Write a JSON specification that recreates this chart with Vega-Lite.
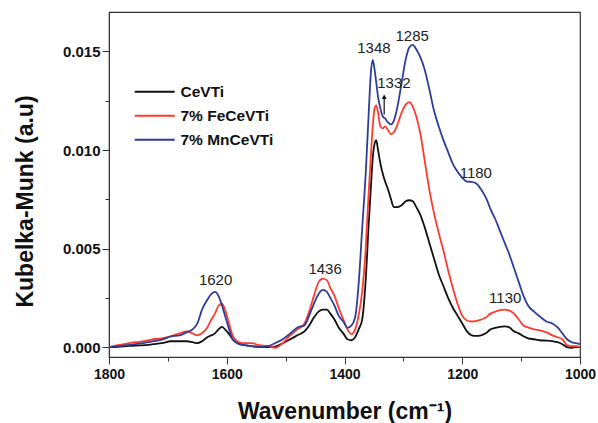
{
  "$schema": "https://vega.github.io/schema/vega-lite/v6.json",
  "width": 471,
  "height": 345,
  "autosize": {"type": "none"},
  "padding": {"left": 109, "top": 12, "right": 18, "bottom": 66},
  "background": "white",
  "config": {
    "view": {"stroke": "#333333", "strokeWidth": 1.2},
    "font": "Liberation Sans"
  },
  "datasets": {
    "spectra": [
      {"wn": 1800, "CeVTi": 0.0000, "7% FeCeVTi": 0.0000, "7% MnCeVTi": 0.0000},
      {"wn": 1785, "CeVTi": 0.00002, "7% FeCeVTi": 0.0001, "7% MnCeVTi": 0.00005},
      {"wn": 1770, "CeVTi": 0.00005, "7% FeCeVTi": 0.00018, "7% MnCeVTi": 0.0001},
      {"wn": 1755, "CeVTi": 0.00008, "7% FeCeVTi": 0.00025, "7% MnCeVTi": 0.00015},
      {"wn": 1740, "CeVTi": 0.0001, "7% FeCeVTi": 0.0003, "7% MnCeVTi": 0.00022},
      {"wn": 1725, "CeVTi": 0.00015, "7% FeCeVTi": 0.0004, "7% MnCeVTi": 0.0003},
      {"wn": 1710, "CeVTi": 0.0002, "7% FeCeVTi": 0.00045, "7% MnCeVTi": 0.00038},
      {"wn": 1695, "CeVTi": 0.0003, "7% FeCeVTi": 0.00055, "7% MnCeVTi": 0.00055},
      {"wn": 1680, "CeVTi": 0.0003, "7% FeCeVTi": 0.0007, "7% MnCeVTi": 0.0006},
      {"wn": 1668, "CeVTi": 0.0003, "7% FeCeVTi": 0.0008, "7% MnCeVTi": 0.00075},
      {"wn": 1658, "CeVTi": 0.00025, "7% FeCeVTi": 0.0007, "7% MnCeVTi": 0.0009},
      {"wn": 1650, "CeVTi": 0.0002, "7% FeCeVTi": 0.0006, "7% MnCeVTi": 0.0012},
      {"wn": 1642, "CeVTi": 0.0003, "7% FeCeVTi": 0.0007, "7% MnCeVTi": 0.0019},
      {"wn": 1633, "CeVTi": 0.0005, "7% FeCeVTi": 0.0010, "7% MnCeVTi": 0.0024},
      {"wn": 1626, "CeVTi": 0.0006, "7% FeCeVTi": 0.0014, "7% MnCeVTi": 0.0027},
      {"wn": 1620, "CeVTi": 0.0007, "7% FeCeVTi": 0.0017, "7% MnCeVTi": 0.0028},
      {"wn": 1614, "CeVTi": 0.0009, "7% FeCeVTi": 0.0021, "7% MnCeVTi": 0.0026},
      {"wn": 1608, "CeVTi": 0.00103, "7% FeCeVTi": 0.0022, "7% MnCeVTi": 0.0021},
      {"wn": 1603, "CeVTi": 0.0009, "7% FeCeVTi": 0.0019, "7% MnCeVTi": 0.0016},
      {"wn": 1597, "CeVTi": 0.0007, "7% FeCeVTi": 0.0013, "7% MnCeVTi": 0.0010},
      {"wn": 1590, "CeVTi": 0.0004, "7% FeCeVTi": 0.0006, "7% MnCeVTi": 0.0004},
      {"wn": 1582, "CeVTi": 0.0002, "7% FeCeVTi": 0.0003, "7% MnCeVTi": 0.0002},
      {"wn": 1570, "CeVTi": 0.0001, "7% FeCeVTi": 0.0002, "7% MnCeVTi": 0.0001},
      {"wn": 1558, "CeVTi": 0.00005, "7% FeCeVTi": 0.0002, "7% MnCeVTi": 0.00005},
      {"wn": 1545, "CeVTi": 0.00003, "7% FeCeVTi": 0.0001, "7% MnCeVTi": 0.0000},
      {"wn": 1530, "CeVTi": 0.0000, "7% FeCeVTi": 0.00005, "7% MnCeVTi": 0.00005},
      {"wn": 1518, "CeVTi": 0.00003, "7% FeCeVTi": -0.00003, "7% MnCeVTi": 0.0002},
      {"wn": 1505, "CeVTi": 0.0002, "7% FeCeVTi": 0.0002, "7% MnCeVTi": 0.0004},
      {"wn": 1492, "CeVTi": 0.0004, "7% FeCeVTi": 0.0006, "7% MnCeVTi": 0.0007},
      {"wn": 1480, "CeVTi": 0.0006, "7% FeCeVTi": 0.0009, "7% MnCeVTi": 0.0010},
      {"wn": 1468, "CeVTi": 0.0008, "7% FeCeVTi": 0.0012, "7% MnCeVTi": 0.0011},
      {"wn": 1460, "CeVTi": 0.0011, "7% FeCeVTi": 0.0018, "7% MnCeVTi": 0.0016},
      {"wn": 1452, "CeVTi": 0.0015, "7% FeCeVTi": 0.0026, "7% MnCeVTi": 0.0022},
      {"wn": 1444, "CeVTi": 0.0018, "7% FeCeVTi": 0.0033, "7% MnCeVTi": 0.0027},
      {"wn": 1437, "CeVTi": 0.0019, "7% FeCeVTi": 0.00348, "7% MnCeVTi": 0.0029},
      {"wn": 1430, "CeVTi": 0.0019, "7% FeCeVTi": 0.0034, "7% MnCeVTi": 0.0028},
      {"wn": 1424, "CeVTi": 0.0017, "7% FeCeVTi": 0.0030, "7% MnCeVTi": 0.0025},
      {"wn": 1417, "CeVTi": 0.0014, "7% FeCeVTi": 0.0026, "7% MnCeVTi": 0.0021},
      {"wn": 1410, "CeVTi": 0.0010, "7% FeCeVTi": 0.0020, "7% MnCeVTi": 0.0016},
      {"wn": 1402, "CeVTi": 0.0007, "7% FeCeVTi": 0.0014, "7% MnCeVTi": 0.0013},
      {"wn": 1395, "CeVTi": 0.0004, "7% FeCeVTi": 0.0009, "7% MnCeVTi": 0.00098},
      {"wn": 1388, "CeVTi": 0.00035, "7% FeCeVTi": 0.00066, "7% MnCeVTi": 0.0011},
      {"wn": 1382, "CeVTi": 0.0005, "7% FeCeVTi": 0.0009, "7% MnCeVTi": 0.0015},
      {"wn": 1376, "CeVTi": 0.0009, "7% FeCeVTi": 0.0016, "7% MnCeVTi": 0.0032},
      {"wn": 1370, "CeVTi": 0.0014, "7% FeCeVTi": 0.0028, "7% MnCeVTi": 0.0060},
      {"wn": 1364, "CeVTi": 0.0034, "7% FeCeVTi": 0.0050, "7% MnCeVTi": 0.0088},
      {"wn": 1359, "CeVTi": 0.0062, "7% FeCeVTi": 0.0078, "7% MnCeVTi": 0.0118},
      {"wn": 1355, "CeVTi": 0.0082, "7% FeCeVTi": 0.0098, "7% MnCeVTi": 0.0140},
      {"wn": 1352, "CeVTi": 0.0096, "7% FeCeVTi": 0.0112, "7% MnCeVTi": 0.01457},
      {"wn": 1349, "CeVTi": 0.0103, "7% FeCeVTi": 0.0121, "7% MnCeVTi": 0.0141},
      {"wn": 1346, "CeVTi": 0.0105, "7% FeCeVTi": 0.01226, "7% MnCeVTi": 0.0134},
      {"wn": 1343, "CeVTi": 0.0100, "7% FeCeVTi": 0.0119, "7% MnCeVTi": 0.0127},
      {"wn": 1339, "CeVTi": 0.0093, "7% FeCeVTi": 0.0112, "7% MnCeVTi": 0.0121},
      {"wn": 1335, "CeVTi": 0.0088, "7% FeCeVTi": 0.0111, "7% MnCeVTi": 0.0117},
      {"wn": 1331, "CeVTi": 0.0084, "7% FeCeVTi": 0.0112, "7% MnCeVTi": 0.0116},
      {"wn": 1326, "CeVTi": 0.0080, "7% FeCeVTi": 0.0110, "7% MnCeVTi": 0.0114},
      {"wn": 1321, "CeVTi": 0.0075, "7% FeCeVTi": 0.0108, "7% MnCeVTi": 0.0113},
      {"wn": 1316, "CeVTi": 0.0071, "7% FeCeVTi": 0.0109, "7% MnCeVTi": 0.0115},
      {"wn": 1310, "CeVTi": 0.0071, "7% FeCeVTi": 0.0113, "7% MnCeVTi": 0.0122},
      {"wn": 1303, "CeVTi": 0.0072, "7% FeCeVTi": 0.0119, "7% MnCeVTi": 0.0134},
      {"wn": 1296, "CeVTi": 0.0074, "7% FeCeVTi": 0.0123, "7% MnCeVTi": 0.0146},
      {"wn": 1290, "CeVTi": 0.00745, "7% FeCeVTi": 0.01243, "7% MnCeVTi": 0.0152},
      {"wn": 1284, "CeVTi": 0.0074, "7% FeCeVTi": 0.0122, "7% MnCeVTi": 0.01533},
      {"wn": 1278, "CeVTi": 0.0071, "7% FeCeVTi": 0.0117, "7% MnCeVTi": 0.0151},
      {"wn": 1271, "CeVTi": 0.0067, "7% FeCeVTi": 0.0108, "7% MnCeVTi": 0.0147},
      {"wn": 1264, "CeVTi": 0.0061, "7% FeCeVTi": 0.0095, "7% MnCeVTi": 0.0141},
      {"wn": 1256, "CeVTi": 0.0053, "7% FeCeVTi": 0.0080, "7% MnCeVTi": 0.0131},
      {"wn": 1248, "CeVTi": 0.0045, "7% FeCeVTi": 0.0068, "7% MnCeVTi": 0.0120},
      {"wn": 1240, "CeVTi": 0.0037, "7% FeCeVTi": 0.0058, "7% MnCeVTi": 0.0112},
      {"wn": 1232, "CeVTi": 0.0031, "7% FeCeVTi": 0.0049, "7% MnCeVTi": 0.0105},
      {"wn": 1224, "CeVTi": 0.0025, "7% FeCeVTi": 0.0039, "7% MnCeVTi": 0.0099},
      {"wn": 1216, "CeVTi": 0.0020, "7% FeCeVTi": 0.0030, "7% MnCeVTi": 0.0093},
      {"wn": 1208, "CeVTi": 0.0016, "7% FeCeVTi": 0.0022, "7% MnCeVTi": 0.0089},
      {"wn": 1200, "CeVTi": 0.0012, "7% FeCeVTi": 0.0016, "7% MnCeVTi": 0.0086},
      {"wn": 1192, "CeVTi": 0.0008, "7% FeCeVTi": 0.00135, "7% MnCeVTi": 0.0084},
      {"wn": 1184, "CeVTi": 0.0006, "7% FeCeVTi": 0.0013, "7% MnCeVTi": 0.00838},
      {"wn": 1176, "CeVTi": 0.00057, "7% FeCeVTi": 0.00133, "7% MnCeVTi": 0.0083},
      {"wn": 1168, "CeVTi": 0.0006, "7% FeCeVTi": 0.0014, "7% MnCeVTi": 0.0080},
      {"wn": 1160, "CeVTi": 0.0007, "7% FeCeVTi": 0.0015, "7% MnCeVTi": 0.0076},
      {"wn": 1152, "CeVTi": 0.0009, "7% FeCeVTi": 0.0017, "7% MnCeVTi": 0.0070},
      {"wn": 1144, "CeVTi": 0.00098, "7% FeCeVTi": 0.0018, "7% MnCeVTi": 0.0065},
      {"wn": 1136, "CeVTi": 0.00103, "7% FeCeVTi": 0.00188, "7% MnCeVTi": 0.0059},
      {"wn": 1128, "CeVTi": 0.00105, "7% FeCeVTi": 0.0019, "7% MnCeVTi": 0.0053},
      {"wn": 1120, "CeVTi": 0.0010, "7% FeCeVTi": 0.00185, "7% MnCeVTi": 0.0047},
      {"wn": 1112, "CeVTi": 0.0008, "7% FeCeVTi": 0.0017, "7% MnCeVTi": 0.0040},
      {"wn": 1104, "CeVTi": 0.0007, "7% FeCeVTi": 0.0014, "7% MnCeVTi": 0.0033},
      {"wn": 1096, "CeVTi": 0.00055, "7% FeCeVTi": 0.0011, "7% MnCeVTi": 0.0026},
      {"wn": 1088, "CeVTi": 0.00045, "7% FeCeVTi": 0.0010, "7% MnCeVTi": 0.0021},
      {"wn": 1078, "CeVTi": 0.0004, "7% FeCeVTi": 0.0009, "7% MnCeVTi": 0.0018},
      {"wn": 1068, "CeVTi": 0.00035, "7% FeCeVTi": 0.00085, "7% MnCeVTi": 0.00155},
      {"wn": 1057, "CeVTi": 0.00033, "7% FeCeVTi": 0.00075, "7% MnCeVTi": 0.0013},
      {"wn": 1047, "CeVTi": 0.0003, "7% FeCeVTi": 0.0006, "7% MnCeVTi": 0.0012},
      {"wn": 1038, "CeVTi": 0.00025, "7% FeCeVTi": 0.0005, "7% MnCeVTi": 0.0010},
      {"wn": 1030, "CeVTi": 0.00015, "7% FeCeVTi": 0.0004, "7% MnCeVTi": 0.0007},
      {"wn": 1022, "CeVTi": 0.0000, "7% FeCeVTi": 0.0001, "7% MnCeVTi": 0.0004},
      {"wn": 1014, "CeVTi": -0.00003, "7% FeCeVTi": 0.00005, "7% MnCeVTi": 0.00025},
      {"wn": 1007, "CeVTi": 0.0000, "7% FeCeVTi": 0.00005, "7% MnCeVTi": 0.0002},
      {"wn": 1000, "CeVTi": 0.0000, "7% FeCeVTi": 0.0000, "7% MnCeVTi": 0.00015}
    ],
    "peaks": [
      {"wn": 1619, "km": 0.00314, "label": "1620"},
      {"wn": 1433, "km": 0.00373, "label": "1436"},
      {"wn": 1350, "km": 0.01491, "label": "1348"},
      {"wn": 1316, "km": 0.01314, "label": "1332"},
      {"wn": 1285, "km": 0.01555, "label": "1285"},
      {"wn": 1177, "km": 0.0086, "label": "1180"},
      {"wn": 1127, "km": 0.00223, "label": "1130"}
    ],
    "arrow": [
      {"wn": 1332.6, "km": 0.0118, "km2": 0.0127}
    ]
  },
  "layer": [
    {
      "data": {"name": "spectra"},
      "transform": [
        {"fold": ["CeVTi", "7% FeCeVTi", "7% MnCeVTi"], "as": ["sample", "km"]}
      ],
      "mark": {"type": "line", "strokeWidth": 1.8, "interpolate": "monotone", "clip": true},
      "encoding": {
        "x": {
          "field": "wn",
          "type": "quantitative",
          "scale": {"domain": [1000, 1800], "reverse": true, "nice": false, "zero": false},
          "axis": {
            "title": "Wavenumber (cm⁻¹)",
            "values": [1800, 1700, 1600, 1500, 1400, 1300, 1200, 1100, 1000],
            "format": "d",
            "labelExpr": "datum.value % 200 == 0 ? datum.label : ''",
            "grid": false,
            "tickSize": {"condition": {"test": "datum.value % 200 != 0", "value": 4}, "value": 7},
            "tickColor": "#333333",
            "domainColor": "#333333",
            "labelFont": "Liberation Sans",
            "labelFontWeight": "bold",
            "labelFontSize": 14,
            "labelColor": "#111111",
            "labelPadding": 3,
            "labelFlush": false,
            "labelOverlap": false,
            "titleFont": "Liberation Sans",
            "titleFontWeight": "bold",
            "titleFontSize": 23,
            "titleColor": "#111111",
            "titleBaseline": "alphabetic",
            "titleY": 61
          }
        },
        "y": {
          "field": "km",
          "type": "quantitative",
          "scale": {"domain": [-0.0005, 0.017], "nice": false, "zero": false},
          "axis": {
            "title": "Kubelka-Munk (a.u)",
            "values": [0, 0.0025, 0.005, 0.0075, 0.01, 0.0125, 0.015],
            "format": ".3f",
            "labelExpr": "abs(datum.value * 200 - round(datum.value * 200)) > 0.1 ? '' : datum.label",
            "grid": false,
            "tickSize": {"condition": {"test": "abs(datum.value * 200 - round(datum.value * 200)) > 0.1", "value": 4}, "value": 7},
            "tickColor": "#333333",
            "domainColor": "#333333",
            "labelFont": "Liberation Sans",
            "labelFontWeight": "bold",
            "labelFontSize": 15,
            "labelColor": "#111111",
            "labelPadding": 2,
            "labelFlush": false,
            "labelOverlap": false,
            "titleFont": "Liberation Sans",
            "titleFontWeight": "bold",
            "titleFontSize": 23,
            "titleColor": "#111111",
            "titleBaseline": "alphabetic",
            "titleX": -77,
            "titleY": 189
          }
        },
        "color": {
          "field": "sample",
          "type": "nominal",
          "scale": {
            "domain": ["CeVTi", "7% FeCeVTi", "7% MnCeVTi"],
            "range": ["#111111", "#ff3b30", "#2e3e98"]
          },
          "legend": {
            "title": null,
            "orient": "none",
            "legendX": 38,
            "legendY": 72,
            "padding": 0,
            "symbolType": "M-4,0H4",
            "symbolSize": 100,
            "symbolStrokeWidth": 2,
            "rowPadding": 7,
            "labelOffset": 18,
            "labelFont": "Liberation Sans",
            "labelFontWeight": "bold",
            "labelFontSize": 15.5,
            "labelColor": "#111111"
          }
        }
      }
    },
    {
      "data": {"name": "peaks"},
      "mark": {"type": "text", "font": "Liberation Sans", "fontSize": 15, "color": "#222222", "align": "center", "baseline": "alphabetic"},
      "encoding": {
        "x": {"field": "wn", "type": "quantitative"},
        "y": {"field": "km", "type": "quantitative"},
        "text": {"field": "label"}
      }
    },
    {
      "data": {"name": "arrow"},
      "mark": {"type": "rule", "color": "#111111", "strokeWidth": 1.2},
      "encoding": {
        "x": {"field": "wn", "type": "quantitative"},
        "y": {"field": "km", "type": "quantitative"},
        "y2": {"field": "km2"}
      }
    },
    {
      "data": {"name": "arrow"},
      "mark": {"type": "point", "shape": "triangle-up", "filled": true, "color": "#111111", "size": 25, "opacity": 1},
      "encoding": {
        "x": {"field": "wn", "type": "quantitative"},
        "y": {"field": "km2", "type": "quantitative"}
      }
    }
  ]
}
